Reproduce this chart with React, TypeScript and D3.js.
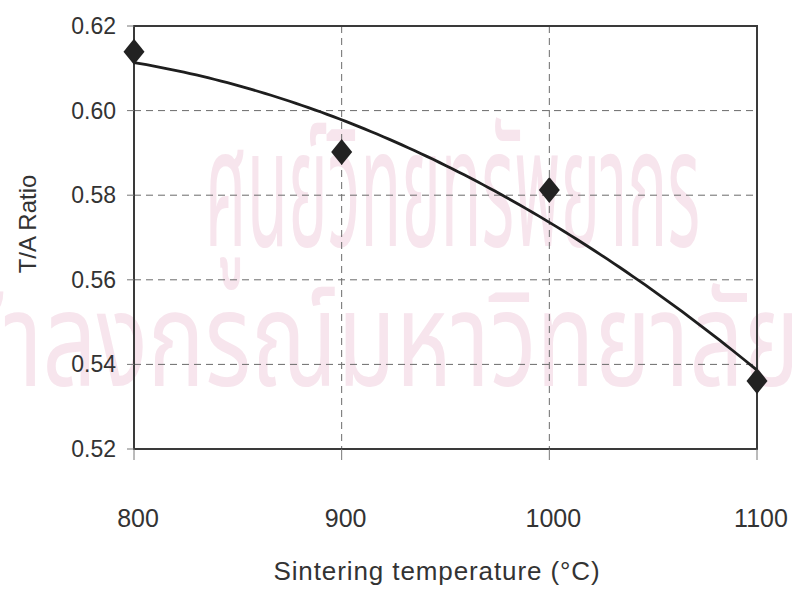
import React from "react";
import * as d3 from "d3";

const temperatures: number[] = [800, 900, 1000, 1100];
const taRatio: number[] = [0.6139, 0.5902, 0.5812, 0.5361];
const xTicks: number[] = [800, 900, 1000, 1100];
const yTicks: number[] = [0.52, 0.54, 0.56, 0.58, 0.6, 0.62];
const xTitle = "Sintering temperature (°C)";
const yTitle = "T/A Ratio";
const watermarkLine1 = "ศูนย์วิทยทรัพยากร";
const watermarkLine2 = "จุฬาลงกรณ์มหาวิทยาลัย";

// least-squares quadratic trendline (like a spreadsheet polynomial trendline of order 2)
function quadFit(xs: number[], ys: number[]) {
  const c = 950, s = 100;
  const t = xs.map((v) => (v - c) / s);
  let S0 = 0, S1 = 0, S2 = 0, S3 = 0, S4 = 0, T0 = 0, T1 = 0, T2 = 0;
  t.forEach((ti, i) => {
    const yi = ys[i];
    S0 += 1; S1 += ti; S2 += ti * ti; S3 += ti ** 3; S4 += ti ** 4;
    T0 += yi; T1 += ti * yi; T2 += ti * ti * yi;
  });
  const A = [
    [S0, S1, S2, T0],
    [S1, S2, S3, T1],
    [S2, S3, S4, T2],
  ];
  for (let i = 0; i < 3; i++) {
    let p = i;
    for (let r = i + 1; r < 3; r++) if (Math.abs(A[r][i]) > Math.abs(A[p][i])) p = r;
    [A[i], A[p]] = [A[p], A[i]];
    for (let r = 0; r < 3; r++) {
      if (r === i) continue;
      const f = A[r][i] / A[i][i];
      for (let k = i; k < 4; k++) A[r][k] -= f * A[i][k];
    }
  }
  const a = A[0][3] / A[0][0], b = A[1][3] / A[1][1], q = A[2][3] / A[2][2];
  return (xv: number) => {
    const tv = (xv - c) / s;
    return a + b * tv + q * tv * tv;
  };
}

export default function App() {
  const W = 792, H = 590;
  const L = 134, R = 757, T = 26, B = 449;
  const x = d3.scaleLinear().domain([800, 1100]).range([L, R]);
  const y = d3.scaleLinear().domain([0.52, 0.62]).range([B, T]);
  const fit = quadFit(temperatures, taRatio);
  const curvePts = d3.range(0, 101).map((i) => {
    const xv = 800 + (300 * i) / 100;
    return [xv, fit(xv)] as [number, number];
  });
  const line = d3
    .line<[number, number]>()
    .x((d) => x(d[0]))
    .y((d) => y(d[1]))
    .curve(d3.curveLinear);

  const diamond = (cx: number, cy: number) =>
    `M${cx},${cy - 13}L${cx + 10.5},${cy}L${cx},${cy + 13}L${cx - 10.5},${cy}Z`;

  const font = "'Liberation Sans', Arial, Helvetica, sans-serif";
  const thaiFont = "'Noto Sans Thai', 'Noto Serif Thai', 'Loma', 'Garuda', 'TlwgTypo', 'DejaVu Sans', sans-serif";

  return (
    <svg
      width={W}
      height={H}
      viewBox={`0 0 ${W} ${H}`}
      style={{ position: "absolute", left: 0, top: 0, background: "#fff" }}
    >
      <rect x={0} y={0} width={W} height={H} fill="#ffffff" />
      {/* faint watermark */}
      <g fill="#f7e5ed" fontFamily={thaiFont}>
        <text x={205} y={246} fontSize={165} textLength={495} lengthAdjust="spacingAndGlyphs">
          {watermarkLine1}
        </text>
        <text x={-110} y={386} fontSize={132} textLength={910} lengthAdjust="spacingAndGlyphs">
          {watermarkLine2}
        </text>
      </g>

      {/* grid */}
      <g stroke="#6b6b6b" strokeWidth={1} strokeDasharray="7,5" fill="none">
        {yTicks
          .filter((v) => v > 0.52 && v < 0.62)
          .map((v) => (
            <line key={`gy${v}`} x1={L} x2={R} y1={y(v)} y2={y(v)} />
          ))}
        {xTicks
          .filter((v) => v > 800 && v < 1100)
          .map((v) => (
            <line key={`gx${v}`} x1={x(v)} x2={x(v)} y1={T} y2={B} />
          ))}
      </g>

      {/* frame */}
      <rect x={L} y={T} width={R - L} height={B - T} fill="none" stroke="#3a3a3a" strokeWidth={2} />

      {/* ticks */}
      <g stroke="#777" strokeWidth={1}>
        {yTicks.map((v) => (
          <line key={`ty${v}`} x1={L - 7} x2={L} y1={y(v)} y2={y(v)} />
        ))}
        {xTicks.map((v) => (
          <line key={`tx${v}`} x1={x(v)} x2={x(v)} y1={B} y2={B + 11} />
        ))}
      </g>

      {/* tick labels */}
      <g fontFamily={font} fill="#333" fontSize={23}>
        {yTicks.map((v) => (
          <text key={`ly${v}`} x={116} y={y(v) + 8} textAnchor="end">
            {d3.format(".2f")(v)}
          </text>
        ))}
      </g>
      <g fontFamily={font} fill="#333" fontSize={25}>
        {xTicks.map((v) => (
          <text key={`lx${v}`} x={x(v) + 4} y={527} textAnchor="middle">
            {v}
          </text>
        ))}
      </g>

      {/* axis titles */}
      <text x={437} y={580} textAnchor="middle" fontFamily={font} fontSize={26} fill="#333" letterSpacing={0.9}>
        {xTitle}
      </text>
      <text
        transform={`translate(36,224) rotate(-90)`}
        textAnchor="middle"
        fontFamily={font}
        fontSize={24}
        fill="#333"
      >
        {yTitle}
      </text>

      {/* trendline */}
      <path d={line(curvePts) || ""} fill="none" stroke="#1e1e1e" strokeWidth={2.8} />

      {/* data points */}
      <g fill="#222">
        {temperatures.map((t, i) => (
          <path key={`p${t}`} d={diamond(x(t), y(taRatio[i]))} />
        ))}
      </g>
    </svg>
  );
}
